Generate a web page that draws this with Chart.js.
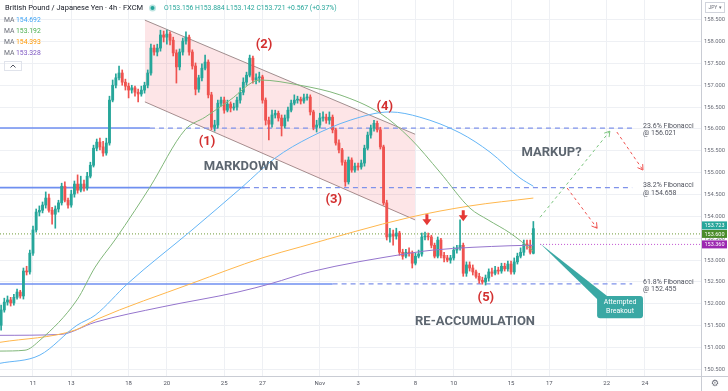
<!DOCTYPE html>
<html>
<head>
<meta charset="utf-8">
<script src="https://cdn.jsdelivr.net/npm/chart.js@4.4.1/dist/chart.umd.min.js"></script>
<style>
html, body { margin: 0; padding: 0; background: #ffffff; }
#wrap { width: 728px; height: 391px; }
</style>
</head>
<body>
<div id="wrap"><canvas id="gbpjpy" width="728" height="391"></canvas></div>
<script>
// GBP/JPY 4h candles, one slot per candle, slot 0 = Oct 11 00:00
const firstSlot = -10;

const opens = [
  151.51,151.86,152.04,152.09,152.02,152.15,152.27,152.18,152.75,152.73,
  153.16,153.69,154.10,154.14,154.26,154.42,154.14,154.05,154.17,154.31,
  154.69,154.37,154.26,154.51,154.74,154.60,154.74,154.65,154.92,155.17,
  155.56,155.70,155.59,155.45,155.68,156.66,157.00,157.17,157.28,157.07,
  156.98,156.89,156.94,156.84,156.80,156.89,157.00,157.28,157.85,157.76,
  157.85,158.15,158.10,158.17,158.03,157.74,157.42,157.76,158.01,158.10,
  157.76,157.44,156.91,157.17,157.39,157.53,156.78,156.04,156.09,156.59,
  156.66,156.43,156.57,156.48,156.50,156.66,156.84,157.07,157.23,157.62,
  157.12,157.17,157.19,156.66,156.20,156.11,156.32,156.36,156.25,156.07,
  156.25,156.43,156.59,156.66,156.68,156.64,156.71,156.73,156.39,156.04,
  156.09,156.25,156.27,156.20,156.27,155.98,155.68,155.52,155.24,154.79,
  155.29,155.06,155.15,155.13,155.22,155.56,155.86,156.02,156.13,155.98,
  155.59,154.31,153.53,153.60,153.55,153.62,153.18,153.09,153.18,153.16,
  152.93,153.09,153.14,153.53,153.55,153.53,153.34,153.09,153.46,153.11,
  153.05,153.00,153.05,153.23,153.28,153.34,152.70,152.89,152.82,152.73,
  152.63,152.54,152.50,152.59,152.73,152.70,152.77,152.75,152.86,152.80,
  152.91,152.73,152.96,153.09,153.18,153.37,153.34,153.156
];
const highs = [
  151.97,152.13,152.18,152.15,152.22,152.34,152.31,152.82,152.86,153.23,
  153.78,154.17,154.24,154.33,154.56,154.51,154.21,154.24,154.37,154.76,
  154.79,154.42,154.60,154.81,154.95,154.92,154.83,155.01,155.24,155.63,
  155.77,155.79,155.72,155.79,156.75,157.12,157.26,157.44,157.35,157.14,
  157.05,157.00,156.98,156.91,156.98,157.07,157.35,157.94,157.92,157.94,
  158.26,158.24,158.26,158.22,158.10,157.81,157.83,158.08,158.22,158.15,
  157.81,157.51,157.23,157.49,157.69,157.58,156.84,156.20,156.66,156.73,
  156.73,156.66,156.62,156.59,156.73,156.94,157.17,157.30,157.69,157.67,
  157.26,157.30,157.23,156.71,156.27,156.43,156.43,156.41,156.32,156.32,
  156.50,156.66,156.78,156.75,156.73,156.80,156.80,156.78,156.43,156.20,
  156.36,156.39,156.34,156.39,156.32,156.02,155.75,155.56,155.29,155.36,
  155.34,155.22,155.22,155.29,155.63,155.93,156.09,156.20,156.18,156.04,
  155.63,154.37,153.73,153.69,153.73,153.66,153.25,153.25,153.28,153.21,
  153.16,153.23,153.62,153.64,153.62,153.57,153.39,153.53,153.50,153.18,
  153.11,153.11,153.30,153.34,153.92,153.39,152.96,152.96,152.89,152.77,
  152.70,152.61,152.66,152.80,152.82,152.86,152.84,152.93,152.93,152.98,
  152.98,153.05,153.16,153.28,153.46,153.46,153.46,153.884
];
const lows = [
  151.40,151.81,151.97,151.95,151.97,152.11,152.13,152.11,152.66,152.68,
  153.11,153.64,154.01,154.08,154.19,154.10,153.82,153.73,154.10,154.26,
  154.33,154.19,154.21,154.44,154.53,154.56,154.58,154.60,154.88,155.13,
  155.50,155.52,155.38,155.40,155.63,156.62,156.94,157.12,157.00,156.89,
  156.71,156.82,156.75,156.62,156.75,156.82,156.94,157.23,157.69,157.67,
  157.78,157.99,157.94,157.92,157.67,157.05,157.35,157.69,157.94,157.69,
  157.37,156.78,156.84,157.10,157.35,156.71,155.98,155.95,156.02,156.52,
  156.36,156.39,156.39,156.43,156.43,156.59,156.78,157.00,157.19,157.05,
  157.03,157.07,156.59,156.09,155.75,156.04,156.25,156.18,155.84,156.02,
  156.18,156.39,156.55,156.59,156.57,156.59,156.66,156.32,155.98,155.93,
  156.02,156.18,156.13,156.11,155.91,155.63,155.45,155.17,154.69,154.74,
  155.01,155.01,155.06,155.08,155.15,155.52,155.79,155.95,155.93,155.54,
  154.26,153.46,153.41,153.34,153.48,153.11,153.02,153.05,153.09,152.82,
  152.89,153.05,153.09,153.46,153.46,153.28,153.05,153.05,153.05,152.96,
  152.96,152.93,153.00,153.16,153.23,152.63,152.63,152.75,152.66,152.59,
  152.47,152.45,152.43,152.52,152.63,152.66,152.68,152.70,152.75,152.75,
  152.68,152.68,152.91,153.05,153.11,153.25,153.14,153.142
];
const closes = [
  151.86,152.04,152.09,152.02,152.15,152.27,152.18,152.75,152.73,153.16,
  153.69,154.10,154.14,154.26,154.42,154.14,154.05,154.17,154.31,154.69,
  154.37,154.26,154.51,154.74,154.60,154.74,154.65,154.92,155.17,155.56,
  155.70,155.59,155.45,155.68,156.66,157.00,157.17,157.28,157.07,156.98,
  156.89,156.94,156.84,156.80,156.89,157.00,157.28,157.85,157.76,157.85,
  158.15,158.10,158.17,158.03,157.74,157.42,157.76,158.01,158.10,157.76,
  157.44,156.91,157.17,157.39,157.53,156.78,156.04,156.09,156.59,156.66,
  156.43,156.57,156.48,156.50,156.66,156.84,157.07,157.23,157.62,157.12,
  157.17,157.19,156.66,156.20,156.11,156.32,156.36,156.25,156.07,156.25,
  156.43,156.59,156.66,156.68,156.64,156.71,156.73,156.39,156.04,156.09,
  156.25,156.27,156.20,156.27,155.98,155.68,155.52,155.24,154.79,155.29,
  155.06,155.15,155.13,155.22,155.56,155.86,156.02,156.13,155.98,155.59,
  154.31,153.53,153.60,153.55,153.62,153.18,153.09,153.18,153.16,152.93,
  153.09,153.14,153.53,153.55,153.53,153.34,153.09,153.46,153.11,153.05,
  153.00,153.05,153.23,153.28,153.34,152.70,152.89,152.82,152.73,152.63,
  152.54,152.50,152.59,152.73,152.70,152.77,152.75,152.86,152.80,152.91,
  152.73,152.96,153.09,153.18,153.37,153.34,153.18,153.721
];

// axis ticks
const dayTicks = [0, 12, 30, 42, 60, 72, 90, 102, 120, 132, 150, 162, 180, 192];
const dayLabels = ['11', '13', '18', '20', '25', '27', 'Nov', '3', '8', '10', '15', '17', '22', '24'];
const priceTicks = [150.5, 151, 151.5, 152, 152.5, 153, 153.5, 154, 154.5, 155, 155.5, 156, 156.5, 157, 157.5, 158, 158.5];
const slotMin = -10.35, slotMax = 209.6;
const priceMin = 150.35, priceMax = 158.95;

// moving averages (read at a few slots)
const maBlueX = [-10.4, 2.2, 13.8, 19.5, 29.8, 49.9, 65.6, 75.9, 86.9, 99.5, 112, 121.4, 134, 143.4, 152.8, 157];
const maBlueY = [150.64, 150.83, 151.51, 151.74, 152.47, 153.69, 154.67, 155.33, 155.81, 156.20, 156.39, 156.27, 155.91, 155.47, 154.88, 154.69];
const maGreenX = [-10.4, -2.5, 2.2, 13.8, 19.5, 25.7, 32, 36.7, 47.7, 54, 61.8, 71.2, 83.8, 96.3, 108.9, 118.3, 127.7, 137.1, 142.8, 149.7, 157];
const maGreenY = [150.92, 150.94, 151.17, 152.09, 152.84, 153.46, 154.14, 154.67, 155.98, 156.27, 156.66, 157.12, 157.00, 156.78, 156.36, 155.79, 155.01, 154.19, 153.92, 153.62, 153.21];
const maOrangeX = [-10.4, 13.2, 19.5, 49.9, 71.9, 83.8, 118.3, 137.1, 157];
const maOrangeY = [151.12, 151.40, 151.63, 152.47, 153.05, 153.30, 153.98, 154.24, 154.42];
const maPurpleX = [-10.4, 8.5, 19.5, 40.5, 64.3, 75, 86.9, 118.3, 125.5, 150, 157];
const maPurpleY = [151.28, 151.30, 151.58, 151.93, 152.27, 152.47, 152.73, 153.16, 153.23, 153.33, 153.34];

// drawings
const channelX = [35.1, 119.9];
const channelTop = [158.49, 155.88];
const channelBottom = [156.62, 153.92];

const fibLevels = [156.021, 154.658, 152.455];
const fibNames = ['23.6% Fibonacci', '38.2% Fibonacci', '61.8% Fibonacci'];
const fibSolidEnd = [36.7, 66.5, 94];
const fibDashEnd = 188;
const fibLabelSlot = 191.4;

const priceLine = 153.600;
const maLine = 153.360;
const maLineStart = 159.1;
const lastTag = 153.723;

const waveLabels = ['(1)', '(2)', '(3)', '(4)', '(5)'];
const waveSlots = [54.6, 72.5, 94.4, 110.4, 142.1];
const wavePrices = [155.70, 157.92, 154.37, 156.50, 152.15];

const phaseLabels = ['MARKDOWN', 'MARKUP?', 'RE-ACCUMULATION'];
const phaseSlots = [65.3, 162.7, 138.7];
const phasePrices = [155.13, 155.45, 151.60];

const markerSlots = [123.6, 135];
const markerPrices = [153.80, 153.89];

const pathGreen = { x: [159.1, 181.0], y: [153.98, 155.95] };
const pathRedA = { x: [183.2, 191.4], y: [155.93, 155.06] };
const pathRedB = { x: [167.6, 177.0], y: [154.65, 153.73] };

const calloutBoxX = [177, 191.4];
const calloutBoxY = [152.18, 151.67];
const calloutTip = [159.1, 153.38];
const calloutText = ['Attempted', 'Breakout'];

const maValues = ['154.692', '153.192', '154.393', '153.328'];
const maColors = ['#42a5f5', '#4caf50', '#ff9800', '#7e57c2'];

const slots = opens.map((_, i) => firstSlot + i);
const candleColors = closes.map((c, i) => c >= opens[i] ? '#26a69a' : '#ef5350');

function pts(xs, ys) {
  return xs.map((x, i) => ({ x: x, y: ys[i] }));
}

function hline(x0, x1, level, color, width, dash, order) {
  return {
    type: 'line',
    data: [{ x: x0, y: level }, { x: x1, y: level }],
    borderColor: color,
    borderWidth: width,
    borderDash: dash,
    pointRadius: 0,
    fill: false,
    order: order
  };
}

function maLineSet(xs, ys, color) {
  return {
    type: 'line',
    data: pts(xs, ys),
    borderColor: color,
    borderWidth: 1,
    pointRadius: 0,
    cubicInterpolationMode: 'monotone',
    fill: false,
    order: 3
  };
}

const datasets = [
  {
    type: 'line',
    data: pts(channelX, channelTop),
    borderColor: 'rgba(130,110,110,0.75)',
    borderWidth: 1,
    pointRadius: 0,
    fill: '+1',
    backgroundColor: 'rgba(242,54,69,0.13)',
    order: 20
  },
  {
    type: 'line',
    data: pts(channelX, channelBottom),
    borderColor: 'rgba(130,110,110,0.75)',
    borderWidth: 1,
    pointRadius: 0,
    fill: false,
    order: 20
  },
  {
    type: 'bar',
    data: slots.map((s, i) => ({ x: s, y: [lows[i], highs[i]] })),
    backgroundColor: candleColors,
    barThickness: 1,
    grouped: false,
    order: 6
  },
  {
    type: 'bar',
    data: slots.map((s, i) => ({ x: s, y: [opens[i], closes[i]] })),
    backgroundColor: candleColors,
    barThickness: 2.2,
    minBarLength: 1,
    grouped: false,
    order: 5
  },
  maLineSet(maBlueX, maBlueY, '#64b5f6'),
  maLineSet(maGreenX, maGreenY, '#81b77a'),
  maLineSet(maOrangeX, maOrangeY, '#ffb74d'),
  maLineSet(maPurpleX, maPurpleY, '#9575cd'),
  hline(slotMin, slotMax, priceLine, '#6e9b3a', 1, [1, 2], 8),
  hline(maLineStart, slotMax, maLine, '#c04fd0', 1, [1, 2], 8),
  {
    type: 'line', data: pts(pathGreen.x, pathGreen.y), borderColor: '#7cc47f',
    borderWidth: 1, borderDash: [3, 3], pointRadius: 0, fill: false, order: 2
  },
  {
    type: 'line', data: pts(pathRedA.x, pathRedA.y), borderColor: '#ef5350',
    borderWidth: 1, borderDash: [3, 3], pointRadius: 0, fill: false, order: 2
  },
  {
    type: 'line', data: pts(pathRedB.x, pathRedB.y), borderColor: '#ef5350',
    borderWidth: 1, borderDash: [3, 3], pointRadius: 0, fill: false, order: 2
  }
];

fibLevels.forEach((lvl, i) => {
  datasets.push(hline(slotMin, fibSolidEnd[i], lvl, '#6f8ff0', 1.6, [], 9));
  datasets.push(hline(fibSolidEnd[i], fibDashEnd, lvl, '#7f92ea', 1.2, [5, 4], 9));
});

const FONT = 'Roboto, "Noto Sans", sans-serif';

function arrowHead(ctx, x0, y0, x1, y1, color) {
  const a = Math.atan2(y1 - y0, x1 - x0), L = 6;
  ctx.setLineDash([]);
  ctx.strokeStyle = color;
  ctx.lineWidth = 1;
  ctx.beginPath();
  ctx.moveTo(x1 - L * Math.cos(a - 0.55), y1 - L * Math.sin(a - 0.55));
  ctx.lineTo(x1, y1);
  ctx.lineTo(x1 - L * Math.cos(a + 0.55), y1 - L * Math.sin(a + 0.55));
  ctx.stroke();
}

const overlay = {
  id: 'overlay',
  afterDatasetsDraw(chart) {
    const ctx = chart.ctx, xs = chart.scales.x, ys = chart.scales.y, area = chart.chartArea;
    const px = v => xs.getPixelForValue(v), py = v => ys.getPixelForValue(v);
    ctx.save();
    ctx.beginPath();
    ctx.rect(area.left, area.top, area.right - area.left, area.bottom - area.top);
    ctx.clip();

    // arrow heads of projected paths
    arrowHead(ctx, px(pathGreen.x[0]), py(pathGreen.y[0]), px(pathGreen.x[1]), py(pathGreen.y[1]), '#7cc47f');
    arrowHead(ctx, px(pathRedA.x[0]), py(pathRedA.y[0]), px(pathRedA.x[1]), py(pathRedA.y[1]), '#ef5350');
    arrowHead(ctx, px(pathRedB.x[0]), py(pathRedB.y[0]), px(pathRedB.x[1]), py(pathRedB.y[1]), '#ef5350');

    // red down markers
    ctx.fillStyle = '#e53935';
    markerSlots.forEach((s, i) => {
      const x = px(s), y = py(markerPrices[i]);
      ctx.beginPath();
      ctx.moveTo(x, y);
      ctx.lineTo(x - 4.5, y - 6);
      ctx.lineTo(x - 1.5, y - 6);
      ctx.lineTo(x - 1.5, y - 11);
      ctx.lineTo(x + 1.5, y - 11);
      ctx.lineTo(x + 1.5, y - 6);
      ctx.lineTo(x + 4.5, y - 6);
      ctx.closePath();
      ctx.fill();
    });

    // wave counts
    ctx.textAlign = 'center';
    ctx.textBaseline = 'middle';
    ctx.font = 'bold 13px ' + FONT;
    ctx.fillStyle = '#d32f2f';
    waveLabels.forEach((t, i) => ctx.fillText(t, px(waveSlots[i]), py(wavePrices[i])));

    // phase names
    ctx.font = 'bold 13px ' + FONT;
    ctx.fillStyle = '#5d6670';
    phaseLabels.forEach((t, i) => ctx.fillText(t, px(phaseSlots[i]), py(phasePrices[i])));

    // fibonacci labels
    ctx.textAlign = 'left';
    ctx.font = '7px ' + FONT;
    ctx.fillStyle = '#50535e';
    fibLevels.forEach((lvl, i) => {
      const y = py(lvl);
      ctx.fillText(fibNames[i], px(fibLabelSlot), y - 2);
      ctx.fillText('@ ' + lvl.toFixed(3), px(fibLabelSlot), y + 5.5);
    });

    // callout
    const bx0 = px(calloutBoxX[0]), bx1 = px(calloutBoxX[1]);
    const by0 = py(calloutBoxY[0]), by1 = py(calloutBoxY[1]);
    ctx.fillStyle = '#3aa8a4';
    ctx.beginPath();
    ctx.moveTo(px(calloutTip[0]), py(calloutTip[1]));
    ctx.lineTo(bx0 + 2, by0 + 5);
    ctx.lineTo(bx0 + 10, by0);
    ctx.closePath();
    ctx.fill();
    ctx.beginPath();
    if (ctx.roundRect) ctx.roundRect(bx0, by0, bx1 - bx0, by1 - by0, 3);
    else ctx.rect(bx0, by0, bx1 - bx0, by1 - by0);
    ctx.fill();
    ctx.fillStyle = '#ffffff';
    ctx.textAlign = 'center';
    ctx.font = '7px ' + FONT;
    const cx = (bx0 + bx1) / 2, cy = (by0 + by1) / 2;
    ctx.fillText(calloutText[0], cx, cy - 4.5);
    ctx.fillText(calloutText[1], cx, cy + 4.5);
    ctx.restore();
  },
  afterDraw(chart) {
    const ctx = chart.ctx, ys = chart.scales.y, area = chart.chartArea;
    const W = chart.width, H = chart.height;
    ctx.save();

    // axis frame lines
    ctx.strokeStyle = '#c9ccd4';
    ctx.lineWidth = 1;
    ctx.beginPath();
    ctx.moveTo(0, Math.round(area.bottom) + 0.5);
    ctx.lineTo(W, Math.round(area.bottom) + 0.5);
    ctx.moveTo(Math.round(area.right) + 0.5, 0);
    ctx.lineTo(Math.round(area.right) + 0.5, H);
    ctx.stroke();

    // price tags on the axis, stacked so they do not overlap
    const tags = [[maLine, '#9c27b0'], [priceLine, '#4a8c2a'], [lastTag, '#26a69a']];
    let limit = Infinity;
    ctx.font = '5.5px ' + FONT;
    ctx.textAlign = 'center';
    ctx.textBaseline = 'middle';
    tags.forEach(t => {
      const y = Math.min(ys.getPixelForValue(t[0]), limit - 8.5);
      limit = y;
      ctx.fillStyle = t[1];
      ctx.fillRect(area.right + 1, y - 4, 25, 8);
      ctx.fillStyle = '#ffffff';
      ctx.fillText(t[0].toFixed(3), area.right + 13.5, y + 0.3);
    });

    // currency box
    ctx.strokeStyle = '#d1d4dc';
    ctx.strokeRect(area.right + 4.5, 2.5, 19, 10);
    ctx.fillStyle = '#6a6d78';
    ctx.font = '5px ' + FONT;
    ctx.fillText('JPY \u25BE', area.right + 14, 7.8);

    // settings glyph
    ctx.font = '9px "DejaVu Sans", sans-serif';
    ctx.fillStyle = '#6a6d78';
    ctx.fillText('\u2699', area.right + 14, area.bottom + 7.5);

    // header
    ctx.textAlign = 'left';
    ctx.font = '7.5px ' + FONT;
    ctx.fillStyle = '#131722';
    ctx.fillText('British Pound / Japanese Yen \u00B7 4h \u00B7 FXCM', 5, 8);
    ctx.fillStyle = 'rgba(38,166,154,0.3)';
    ctx.beginPath(); ctx.arc(152.5, 8, 3.5, 0, Math.PI * 2); ctx.fill();
    ctx.fillStyle = '#26a69a';
    ctx.beginPath(); ctx.arc(152.5, 8, 2, 0, Math.PI * 2); ctx.fill();
    ctx.font = '6.8px ' + FONT;
    ctx.fillText('O' + opens[opens.length - 1].toFixed(3) + ' H' + highs[highs.length - 1].toFixed(3) +
      ' L' + lows[lows.length - 1].toFixed(3) + ' C' + closes[closes.length - 1].toFixed(3) +
      ' +0.567 (+0.37%)', 164, 8);

    // MA legend
    maValues.forEach((v, i) => {
      const y = 20 + i * 11;
      ctx.fillStyle = '#6a6d78';
      ctx.fillText('MA', 4, y);
      ctx.fillStyle = maColors[i];
      ctx.fillText(v, 16, y);
    });
    ctx.strokeStyle = '#e0e3eb';
    ctx.strokeRect(4.5, 61.5, 17, 9);
    ctx.strokeStyle = '#50535e';
    ctx.beginPath();
    ctx.moveTo(10.5, 67.5); ctx.lineTo(13, 65); ctx.lineTo(15.5, 67.5);
    ctx.stroke();
    ctx.restore();
  }
};

Chart.defaults.font.family = FONT;

new Chart(document.getElementById('gbpjpy'), {
  type: 'bar',
  data: { datasets: datasets },
  options: {
    responsive: false,
    devicePixelRatio: 1,
    animation: false,
    events: [],
    layout: { padding: 0 },
    plugins: { legend: { display: false }, tooltip: { enabled: false } },
    scales: {
      x: {
        type: 'linear',
        min: slotMin,
        max: slotMax,
        offset: false,
        grid: { color: '#eef0f4', drawTicks: false, offset: false },
        border: { display: false },
        afterBuildTicks: (scale) => { scale.ticks = dayTicks.map(v => ({ value: v })); },
        afterFit: (scale) => {
          scale.height = 15;
          scale.paddingLeft = 0;
          scale.paddingRight = 0;
        },
        ticks: {
          autoSkip: false,
          maxRotation: 0,
          padding: 4,
          color: '#50535e',
          font: { size: 6 },
          callback: (value) => dayLabels[dayTicks.indexOf(value)]
        }
      },
      y: {
        position: 'right',
        min: priceMin,
        max: priceMax,
        grid: { color: '#eef0f4', drawTicks: false },
        border: { display: false },
        afterBuildTicks: (scale) => { scale.ticks = priceTicks.map(v => ({ value: v })); },
        afterFit: (scale) => {
          scale.width = 27;
          scale.paddingTop = 0;
          scale.paddingBottom = 0;
        },
        ticks: {
          padding: 3,
          color: '#6a6d78',
          font: { size: 5.8 },
          callback: (value) => Number(value).toFixed(3)
        }
      }
    }
  },
  plugins: [overlay]
});
</script>
</body>
</html>
